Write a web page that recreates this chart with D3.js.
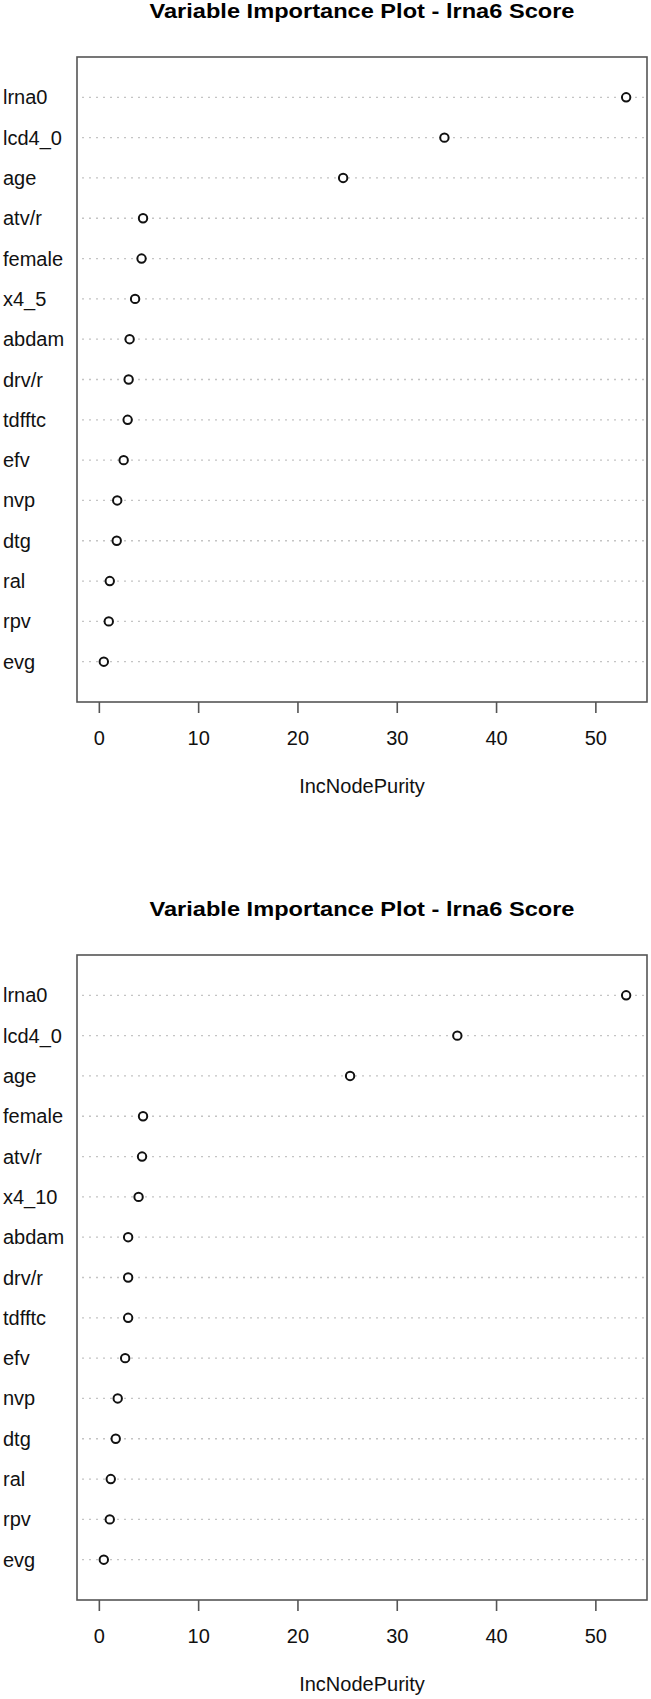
<!DOCTYPE html>
<html>
<head>
<meta charset="utf-8">
<script src="https://cdn.jsdelivr.net/npm/d3@7"></script>
<style>
  body { margin: 0; background: #fff; }
  svg { display: block; font-family: "Liberation Sans", Arial, Helvetica, sans-serif; }
</style>
</head>
<body>
<svg id="chart" width="651" height="1699"></svg>
<script>
// ---- data ----
const titleText = "Variable Importance Plot - lrna6 Score";
const xLabel = "IncNodePurity";
const xTicks = [0, 10, 20, 30, 40, 50];

const categories1 = ["lrna0", "lcd4_0", "age", "atv/r", "female", "x4_5", "abdam", "drv/r", "tdfftc", "efv", "nvp", "dtg", "ral", "rpv", "evg"];
const values1 = [53.1, 34.8, 24.6, 4.45, 4.3, 3.65, 3.1, 3.0, 2.9, 2.5, 1.85, 1.8, 1.1, 1.0, 0.5];

const categories2 = ["lrna0", "lcd4_0", "age", "female", "atv/r", "x4_10", "abdam", "drv/r", "tdfftc", "efv", "nvp", "dtg", "ral", "rpv", "evg"];
const values2 = [53.1, 36.1, 25.3, 4.45, 4.35, 4.0, 2.95, 2.95, 2.95, 2.65, 1.9, 1.7, 1.2, 1.1, 0.5];

const xDomain = [-2.2, 55.2];

// ---- layout ----
const svg = d3.select("#chart");
const box = { left: 77, right: 647, height: 645 };
const panels = [
  { top: 57, cats: categories1, vals: values1 },
  { top: 955, cats: categories2, vals: values2 }
];

const x = d3.scaleLinear().domain(xDomain).range([box.left, box.right]);

panels.forEach(p => {
  const g = svg.append("g");
  const top = p.top, bottom = p.top + box.height;
  const y = d3.scalePoint().domain(p.cats).range([top, bottom]).padding(1);

  // title
  g.append("text")
    .attr("x", (box.left + box.right) / 2)
    .attr("y", top - 39)
    .attr("text-anchor", "middle")
    .attr("font-weight", "bold")
    .attr("font-size", 20)
    .attr("textLength", 425)
    .attr("lengthAdjust", "spacingAndGlyphs")
    .attr("fill", "#000")
    .text(titleText);

  // dotted guide lines
  g.selectAll("line.guide").data(p.cats).join("line")
    .attr("class", "guide")
    .attr("x1", box.left + 5).attr("x2", box.right - 2)
    .attr("y1", d => y(d)).attr("y2", d => y(d))
    .attr("stroke", "#c4c4c4")
    .attr("stroke-width", 1.3)
    .attr("stroke-dasharray", "2,5");

  // frame
  g.append("rect")
    .attr("x", box.left).attr("y", top)
    .attr("width", box.right - box.left).attr("height", box.height)
    .attr("fill", "none")
    .attr("stroke", "#555")
    .attr("stroke-width", 1.6);

  // x axis
  const ax = g.append("g")
    .attr("transform", `translate(0,${bottom})`)
    .call(d3.axisBottom(x).tickValues(xTicks).tickSize(11).tickPadding(18).tickFormat(d3.format("d")));
  ax.select(".domain").remove();
  ax.selectAll(".tick line").attr("stroke", "#555").attr("stroke-width", 1.6);
  ax.selectAll(".tick text").attr("font-size", 20).attr("fill", "#111")
    .attr("font-family", "\"Liberation Sans\", Arial, sans-serif");

  // x label
  g.append("text")
    .attr("x", (box.left + box.right) / 2)
    .attr("y", bottom + 91)
    .attr("text-anchor", "middle")
    .attr("font-size", 20)
    .attr("fill", "#111")
    .text(xLabel);

  // category labels
  g.selectAll("text.cat").data(p.cats).join("text")
    .attr("class", "cat")
    .attr("x", 3)
    .attr("y", d => y(d))
    .attr("dy", "0.35em")
    .attr("font-size", 20)
    .attr("fill", "#111")
    .text(d => d);

  // points
  g.selectAll("circle").data(p.vals).join("circle")
    .attr("cx", d => x(d))
    .attr("cy", (d, i) => y(p.cats[i]))
    .attr("r", 4.2)
    .attr("fill", "#fff")
    .attr("stroke", "#111")
    .attr("stroke-width", 2);
});
</script>
</body>
</html>
